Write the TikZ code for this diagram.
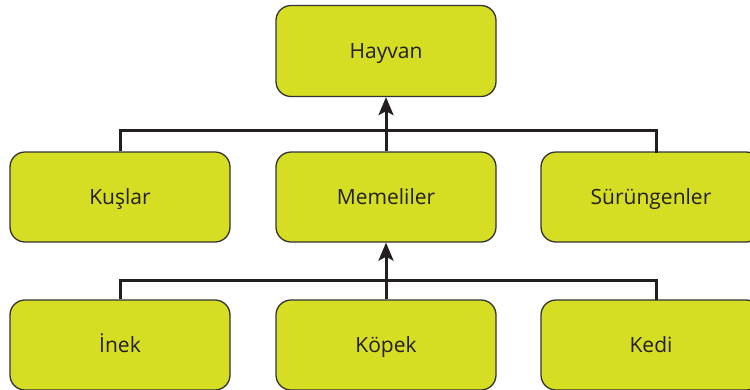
\documentclass[tikz,border=0pt]{standalone}
\usepackage{fontspec}
\setmainfont{Open Sans}
\usetikzlibrary{arrows.meta,calc}
\definecolor{boxfill}{HTML}{D5DE22}
\definecolor{boxline}{HTML}{333333}
\definecolor{linkline}{HTML}{231F20}
\tikzset{
  catbox/.style={rectangle, rounded corners=15pt, draw=boxline, line width=1.3pt,
    fill=boxfill, minimum width=220pt, minimum height=90pt, inner sep=0pt,
    text height=15pt, text depth=0pt,
    font=\fontsize{21}{25}\selectfont, text=linkline},
  link/.style={draw=linkline, line width=3pt},
  uparrow/.style={link, -{Stealth[length=18pt,width=15pt,inset=4pt]}}
}
\begin{document}
\begin{tikzpicture}[x=1pt,y=-1pt]
  \useasboundingbox (0,0) rectangle (750,389);
  \clip (0,0) rectangle (750,389);
  % top level
  \node[catbox, minimum height=91pt] (hay) at (386,51) {Hayvan};
  % second level
  \node[catbox] (kus) at (120,197) {Kuşlar};
  \node[catbox] (mem) at (386,197) {Memeliler};
  \node[catbox] (sur) at (651,197) {Sürüngenler};
  % third level
  \node[catbox] (inek) at (120,345) {İnek};
  \node[catbox] (kop) at (386,345) {Köpek};
  \node[catbox] (kedi) at (651,345) {Kedi};
  % junction points
  \coordinate (j1) at (386,130);
  \coordinate (s1) at (656,153);
  \coordinate (j2) at (386,280);
  \coordinate (s2) at (656,300);
  % links between levels
  \draw[link] (kus.north) |- (j1) -| (s1);
  \draw[uparrow] (mem.north) -- (hay.south);
  \draw[link] (inek.north) |- (j2) -| (s2);
  \draw[uparrow] (kop.north) -- (mem.south);
\end{tikzpicture}
\end{document}
